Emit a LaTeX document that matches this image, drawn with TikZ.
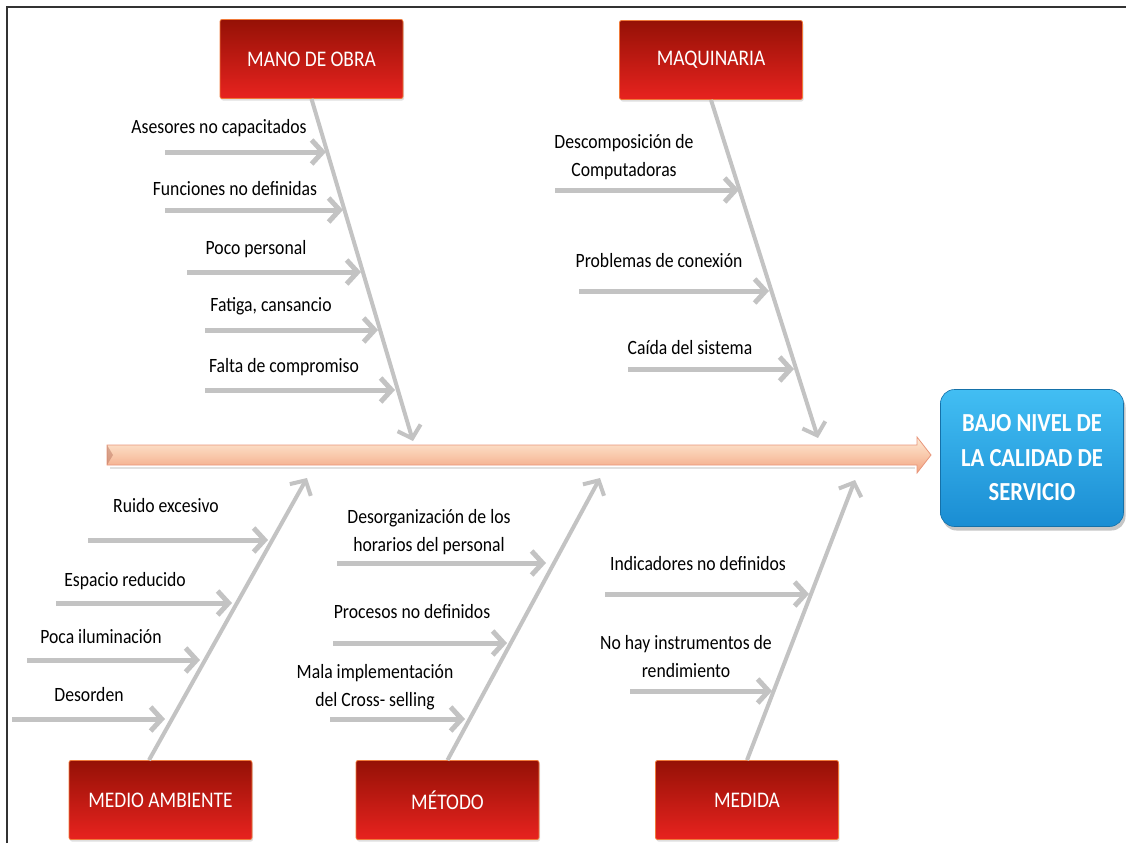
\documentclass[tikz,border=0pt]{standalone}
\usepackage{fontspec}
\setmainfont{Carlito}[FakeStretch=0.87]
\usetikzlibrary{arrows.meta,shadows}
\definecolor{bonegray}{HTML}{C3C3C3}
\definecolor{redtop}{HTML}{951106}
\definecolor{redbot}{HTML}{E8231F}
\definecolor{redline}{HTML}{F07A3A}
\definecolor{bluetop}{HTML}{42BEF3}
\definecolor{bluebot}{HTML}{1A8DD3}
\definecolor{spinetop}{HTML}{FDEBD6}
\definecolor{spinemid}{HTML}{F9C9AC}
\definecolor{spinebot}{HTML}{F2A27F}
\definecolor{spineline}{HTML}{E8957A}
\definecolor{framecol}{HTML}{333333}
\begin{document}
\begin{tikzpicture}[x=1pt,y=-1pt,
  cause/.style={draw=redline, line width=0.8pt, top color=redtop, bottom color=redbot,
    minimum width=183pt, minimum height=79pt, rounded corners=2pt, inner sep=0pt,
    text=white, font=\fontsize{22.3}{25}\selectfont,
    drop shadow={opacity=0.25, shadow xshift=1pt, shadow yshift=-2pt}},
  effect/.style={draw=bluebot!80!black, line width=0.6pt, top color=bluetop, bottom color=bluebot,
    minimum width=183pt, minimum height=137pt, rounded corners=14pt, inner sep=0pt,
    text=white, align=center, font=\bfseries\fontsize{26}{34.5}\selectfont,
    drop shadow={opacity=0.45, shadow xshift=2pt, shadow yshift=-4pt}},
  bone/.style={draw=bonegray, line width=4pt, -{Straight Barb[length=11pt,width=24pt]}},
  sub/.style={draw=bonegray, line width=5pt, -{Straight Barb[length=11pt,width=24pt]}},
  lbl/.style={font=\fontsize{20.3}{28}\selectfont, align=center, inner sep=0pt, text=black}
]
\useasboundingbox (0,0) rectangle (1126,843);

% page frame
\draw[framecol, line width=1.3pt] (7,843) -- (7,7) -- (1126,7);

% spine
\path[top color=spinetop, bottom color=spinebot, middle color=spinemid, draw=spineline, line width=0.8pt]
  (107,445) -- (917,445) -- (917,437) -- (931,455) -- (917,473) -- (917,465) -- (107,465) -- cycle;
\fill[spineline!80!black, opacity=0.5] (107,445) -- (113,455) -- (107,465) -- cycle;
\draw[black, opacity=0.12, line width=2pt] (110,468) -- (915,468);

% effect
\node[effect] (eff) at (1032,458) {BAJO NIVEL DE\\LA CALIDAD DE\\SERVICIO};

% causes
\node[cause] (mo) at (311.5,59) {MANO DE OBRA};
\node[cause] (mq) at (711,60) {MAQUINARIA};
\node[cause] (ma) at (160.5,800) {MEDIO AMBIENTE};
\node[cause] (me) at (447.5,800) {MÉTODO};
\node[cause] (md) at (747,800) {MEDIDA};

% points where the bones reach the spine
\coordinate (s1) at (413,441);
\coordinate (s2) at (818,438);
\coordinate (s3) at (307,478);
\coordinate (s4) at (600,478);
\coordinate (s5) at (855,480);

% bones
\draw[bone] (mo.south) -- (s1);
\draw[bone] (mq.south) -- (s2);
\draw[bone] ([xshift=-11.5pt]ma.north) -- (s3);
\draw[bone] (me.north) -- (s4);
\draw[bone] (md.north) -- (s5);

% MANO DE OBRA
\coordinate (a1) at (165,152); \coordinate (a1e) at (326,152);
\coordinate (a2) at (165,210); \coordinate (a2e) at (343,210);
\coordinate (a3) at (187,272); \coordinate (a3e) at (361,272);
\coordinate (a4) at (205,330); \coordinate (a4e) at (378,330);
\coordinate (a5) at (205,390); \coordinate (a5e) at (395,390);
\foreach \i in {1,...,5} {\draw[sub] (a\i) -- (a\i e);}
\node[lbl] (la1) at (219,128) {Asesores no capacitados};
\node[lbl] (la2) at (235,189) {Funciones no definidas};
\node[lbl] (la3) at (256,249) {Poco personal};
\node[lbl] (la4) at (271,306) {Fatiga, cansancio};
\node[lbl] (la5) at (284,367) {Falta de compromiso};

% MAQUINARIA
\coordinate (b1) at (555,190); \coordinate (b1e) at (739,190);
\coordinate (b2) at (579,291); \coordinate (b2e) at (769,291);
\coordinate (b3) at (628,369); \coordinate (b3e) at (794,369);
\foreach \i in {1,...,3} {\draw[sub] (b\i) -- (b\i e);}
\node[lbl] (lb1) at (624,157) {Descomposición de\\Computadoras};
\node[lbl] (lb2) at (659,261) {Problemas de conexión};
\node[lbl] (lb3) at (690,348) {Caída del sistema};

% MEDIO AMBIENTE
\coordinate (c1) at (88,540); \coordinate (c1e) at (268,540);
\coordinate (c2) at (56,603); \coordinate (c2e) at (232,603);
\coordinate (c3) at (27,660); \coordinate (c3e) at (200,660);
\coordinate (c4) at (12,719); \coordinate (c4e) at (165,719);
\foreach \i in {1,...,4} {\draw[sub] (c\i) -- (c\i e);}
\node[lbl] (lc1) at (166,506) {Ruido excesivo};
\node[lbl] (lc2) at (125,581) {Espacio reducido};
\node[lbl] (lc3) at (101,637) {Poca iluminación};
\node[lbl] (lc4) at (89,695) {Desorden};

% MÉTODO
\coordinate (d1) at (337,563); \coordinate (d1e) at (546,563);
\coordinate (d2) at (333,643); \coordinate (d2e) at (507,643);
\coordinate (d3) at (330,719); \coordinate (d3e) at (465,719);
\foreach \i in {1,...,3} {\draw[sub] (d\i) -- (d\i e);}
\node[lbl] (ld1) at (429,532) {Desorganización de los\\horarios del personal};
\node[lbl] (ld2) at (412,612) {Procesos no definidos};
\node[lbl] (ld3) at (375,687) {Mala implementación\\del Cross- selling};

% MEDIDA
\coordinate (e1) at (605,594); \coordinate (e1e) at (809,594);
\coordinate (e2) at (630,691); \coordinate (e2e) at (772,691);
\foreach \i in {1,...,2} {\draw[sub] (e\i) -- (e\i e);}
\node[lbl] (le1) at (698,564) {Indicadores no definidos};
\node[lbl] (le2) at (686,657) {No hay instrumentos de\\rendimiento};
\end{tikzpicture}
\end{document}
